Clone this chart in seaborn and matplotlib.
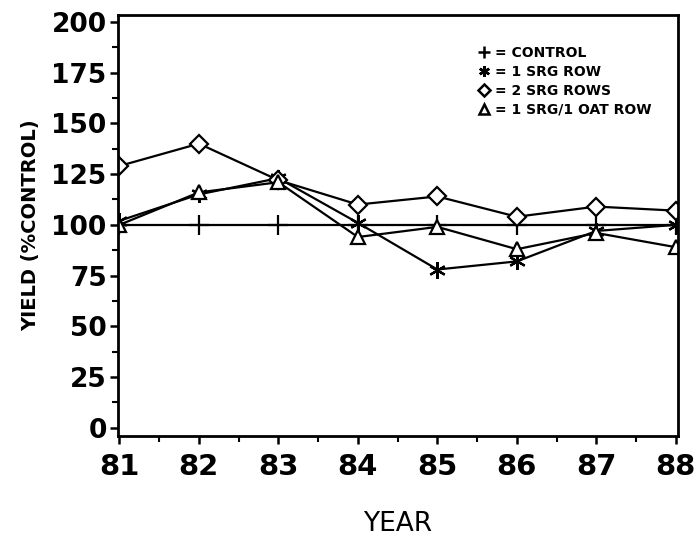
import matplotlib
matplotlib.use("Agg")
import matplotlib.pyplot as plt
from matplotlib.lines import Line2D
from matplotlib.ticker import MultipleLocator
import seaborn as sns
import pandas as pd

sns.set_theme(style="white")
plt.rcParams["font.family"] = ["DejaVu Sans"]
plt.rcParams["text.color"] = "black"

years = [81, 82, 83, 84, 85, 86, 87, 88]
control = [100, 100, 100, 100, 100, 100, 100, 100]
one_srg_row = [102, 115, 123, 101, 78, 82, 97, 100]
two_srg_rows = [129, 140, 122, 110, 114, 104, 109, 107]
srg_oat_row = [100, 116, 121, 94, 99, 88, 96, 89]

labels = ["= CONTROL", "= 1 SRG ROW", "= 2 SRG ROWS", "= 1 SRG/1 OAT ROW"]
series = [control, one_srg_row, two_srg_rows, srg_oat_row]
markers = ["+", (6, 2, 0), "D", "^"]
msizes = [14, 12, 9, 10]

fig = plt.figure(figsize=(6.97, 5.47), dpi=100)
ax = fig.add_axes([0.169, 0.203, 0.804, 0.770])

for vals, lab, mk, ms in zip(series, labels, markers, msizes):
    df = pd.DataFrame({"year": years, "yield": vals})
    sns.lineplot(data=df, x="year", y="yield", ax=ax, color="black",
                 linewidth=1.6, marker=mk, markersize=ms,
                 markerfacecolor="white", markeredgecolor="black",
                 markeredgewidth=1.6, legend=False)

ax.set_xlim(80.98, 88.03)
ax.set_ylim(-4, 203.5)
ax.xaxis.set_major_locator(MultipleLocator(1))
ax.xaxis.set_minor_locator(MultipleLocator(0.5))
ax.yaxis.set_major_locator(MultipleLocator(25))
ax.yaxis.set_minor_locator(MultipleLocator(12.5))
ax.set_xticks(years)
ax.set_xticklabels([str(y) for y in years])

ax.tick_params(axis="both", which="major", direction="out", length=6,
               width=1.8, color="black", bottom=True, left=True)
ax.tick_params(axis="both", which="minor", direction="out", length=4,
               width=1.5, color="black", bottom=True, left=True)
ax.tick_params(axis="x", labelsize=21, pad=6)
ax.tick_params(axis="y", labelsize=19, pad=2)
for t in ax.get_xticklabels() + ax.get_yticklabels():
    t.set_fontweight("bold")
    t.set_color("black")

for sp in ax.spines.values():
    sp.set_linewidth(2)
    sp.set_color("black")

ax.set_xlabel("YEAR", fontsize=19, fontweight="medium", color="black",
              labelpad=22)
ax.set_ylabel("YIELD (%CONTROL)", fontsize=14, fontweight="bold",
              color="black", labelpad=8)

handles = [Line2D([], [], color="black", linestyle="none", marker=mk,
                  markersize=ms * 0.65, markerfacecolor="white",
                  markeredgecolor="black", markeredgewidth=1.8)
           for mk, ms in zip(markers, msizes)]
leg = ax.legend(handles, labels, loc="upper right",
                bbox_to_anchor=(0.975, 0.955), frameon=False,
                handlelength=0.8, handletextpad=0.4, labelspacing=0.35,
                prop={"weight": "bold", "size": 10})
for txt in leg.get_texts():
    txt.set_color("black")

fig.savefig("out.png", dpi=100)
